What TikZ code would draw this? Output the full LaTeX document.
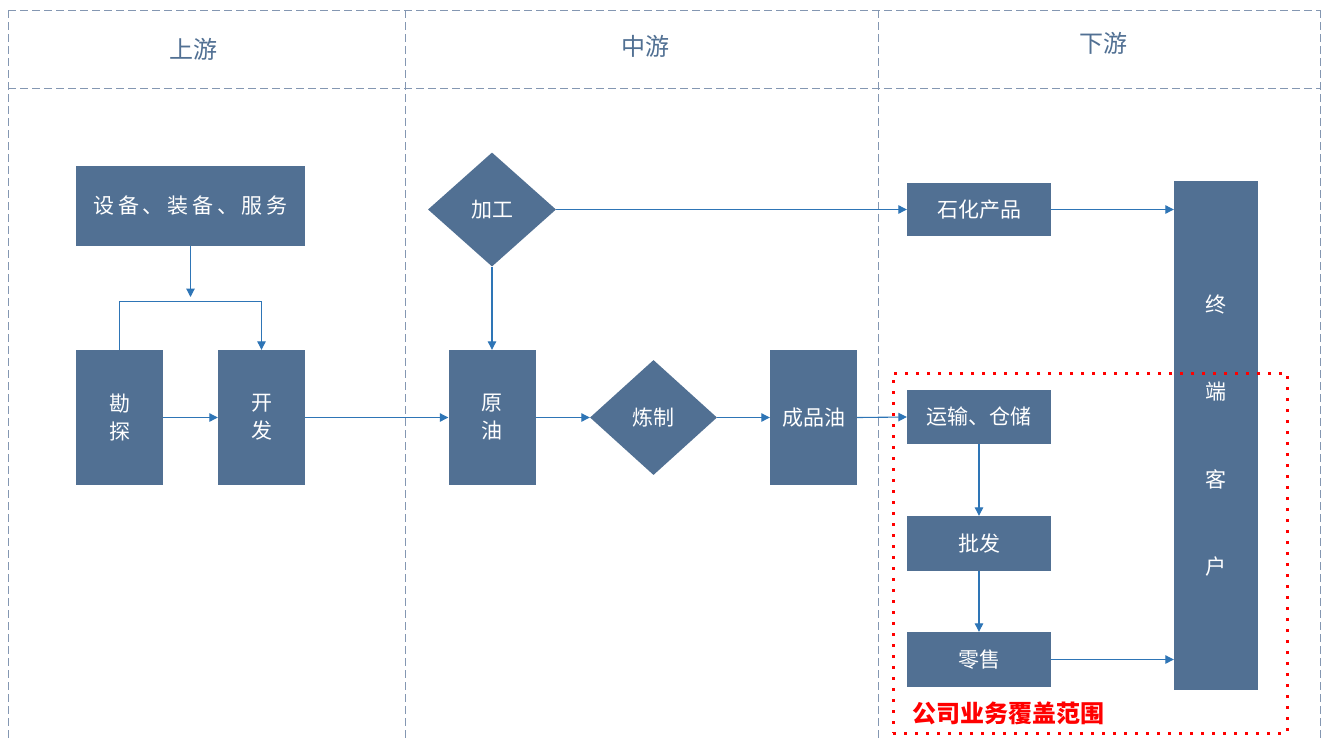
\documentclass[tikz,border=0pt]{standalone}
\usepackage{fontspec}
\setmainfont{Noto Sans CJK SC}
\newfontfamily\widecjk[LetterSpace=18]{Noto Sans CJK SC}
\usetikzlibrary{shapes.geometric,arrows.meta}
\definecolor{boxc}{RGB}{81,112,147}
\definecolor{arrc}{RGB}{46,117,182}
\definecolor{gridc}{RGB}{132,151,178}
\begin{document}
\begin{tikzpicture}[x=1pt,y=-1pt,
 box/.style={fill=boxc, text=white, inner sep=0pt, align=center, font=\fontsize{21}{28}\selectfont},
 dia/.style={box, diamond, minimum width=128pt, minimum height=114pt},
 arr/.style={draw=arrc, line width=1.1pt, -{Triangle[length=8.5pt,width=8.5pt]}},
 gridline/.style={draw=gridc, line width=1pt, dash pattern=on 8pt off 4pt},
 head/.style={text=boxc, font=\fontsize{24}{28}\selectfont},
 scope/.style={draw=red, line width=3pt, dash pattern=on 3pt off 8pt},
 redlabel/.style={text=red, font=\fontsize{24}{28}\selectfont\bfseries}]

\fill[white] (0,0) rectangle (1326,740);
\useasboundingbox (0,0) rectangle (1326,740);

% grid
\draw[gridline] (8,10) -- (1320,10);
\draw[gridline] (8,88) -- (1320,88);
\draw[gridline] (8,10) -- (8,740);
\draw[gridline] (405,10) -- (405,740);
\draw[gridline] (878,10) -- (878,740);
\draw[gridline] (1320,10) -- (1320,740);

% headers
\node[head] (h1) at (193,49) {上游};
\node[head] (h2) at (645,46) {中游};
\node[head] (h3) at (1103,43) {下游};

% upstream
\node[box, minimum width=229pt, minimum height=80pt, font=\fontsize{21}{28}\widecjk] (sb) at (190.5,206) {设备、装备、服务};
\node[box, minimum width=87pt, minimum height=135pt] (kt) at (119.5,417.5) {勘\\探};
\node[box, minimum width=87pt, minimum height=135pt] (kf) at (261.5,417.5) {开\\发};
\coordinate (m) at (190.5,297);

% midstream
\node[dia] (jg) at (492,209.5) {加工};
\node[box, minimum width=87pt, minimum height=135pt] (yy) at (492,417.5) {原\\油};
\node[dia, minimum width=127pt, minimum height=115pt] (lz) at (653.5,417.5) {炼制};
\node[box, minimum width=87pt, minimum height=135pt] (cp) at (813.5,417.5) {成品油};

% downstream
\node[box, minimum width=144pt, minimum height=53pt] (sh) at (979,209.5) {石化产品};
\node[box, minimum width=144pt, minimum height=54pt] (ys) at (979,417) {运输、仓储};
\node[box, minimum width=144pt, minimum height=55pt] (pf) at (979,543.5) {批发};
\node[box, minimum width=144pt, minimum height=55pt] (ls) at (979,659.5) {零售};
\node[box, minimum width=84pt, minimum height=509pt, font=\fontsize{21}{87.5}\selectfont] (kh) at (1216,435.5) {终\\端\\客\\户};

% connectors
\draw[arr] (sb.south) -- (m);
\draw[arr] (kt.north) -- ++(0,-48) -| (kf.north);
\draw[arr] (kt.east) -- (kf.west);
\draw[arr] (kf.east) -- (yy.west);
\draw[arr] (jg.south) -- (jg.south |- yy.north);
\draw[arr] (jg.east) -- (sh.west);
\draw[arr] (yy.east) -- (lz.west);
\draw[arr] (lz.east) -- (cp.west);
\draw[arr] (cp.east) -- (ys.west);
\draw[arr] (sh.east) -- (sh.east -| kh.west);
\draw[arr] (ys.south) -- (pf.north);
\draw[arr] (pf.south) -- (ls.north);
\draw[arr] (ls.east) -- (ls.east -| kh.west);

% company scope
\node[scope, minimum width=394pt, minimum height=360pt, inner sep=0pt] (fw) at (1090,553) {};
\node[redlabel] (fwl) at (1008,713) {公司业务覆盖范围};
\end{tikzpicture}
\end{document}
